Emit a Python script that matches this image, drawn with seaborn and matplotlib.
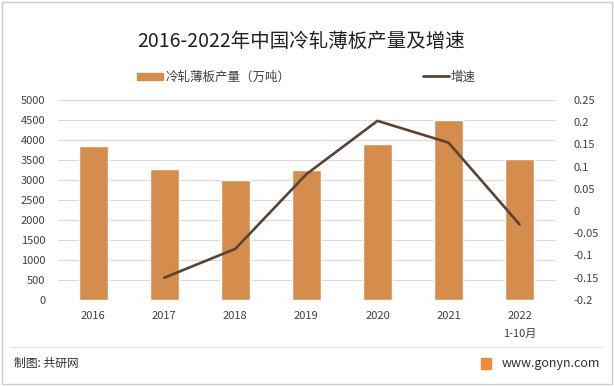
import numpy as np
import pandas as pd
import seaborn as sns
import matplotlib.pyplot as plt
from matplotlib.patches import Rectangle, Patch
from matplotlib.lines import Line2D
from matplotlib.ticker import FuncFormatter

# --- data ---
years = ['2016', '2017', '2018', '2019', '2020', '2021', '2022\n1-10月']
output = [3850, 3270, 3000, 3250, 3900, 4500, 3525]          # 万吨
growth_years = ['2017', '2018', '2019', '2020', '2021', '2022\n1-10月']
growth = [-0.150, -0.085, 0.083, 0.203, 0.154, -0.030]

left_ticks = [0, 500, 1000, 1500, 2000, 2500, 3000, 3500, 4000, 4500, 5000]
right_ticks = [-0.2, -0.15, -0.1, -0.05, 0, 0.05, 0.1, 0.15, 0.2, 0.25]

df = pd.DataFrame({'year': years, 'output': output})
dg = pd.DataFrame({'year': growth_years, 'growth': growth})
dg['pos'] = [years.index(y) for y in growth_years]

sns.set_theme(style="white")
plt.rcParams['font.family'] = ['Noto Sans CJK SC', 'DejaVu Sans']

bar_color = "#D58D4E"
line_color = "#5B4333"
text_color = "#404040"

fig = plt.figure(figsize=(6.14, 3.86), dpi=100)
ax = fig.add_axes([0.094, 0.223, 0.810, 0.518])

sns.barplot(data=df, x='year', y='output', color=bar_color, width=0.41,
            saturation=1, ax=ax, zorder=2)
ax.set_ylim(0, 5000)
ax.set_xlim(-0.5, len(years) - 0.5)
ax.set_yticks(left_ticks)
ax.yaxis.grid(True, color='#d9d9d9', linewidth=0.8, zorder=0)
ax.set_axisbelow(True)
ax.set_xlabel('')
ax.set_ylabel('')
ax.tick_params(axis='both', length=0, labelsize=8, colors=text_color)
ax.tick_params(axis='x', pad=8)
ax.tick_params(axis='y', pad=9)
for lab in ax.get_xticklabels():
    lab.set_linespacing(2.0)

ax2 = ax.twinx()
sns.lineplot(data=dg, x='pos', y='growth', color=line_color, linewidth=1.9,
             ax=ax2, zorder=3)
ax2.set_ylim(-0.2, 0.25)
ax2.set_yticks(right_ticks)
ax2.yaxis.set_major_formatter(FuncFormatter(lambda v, p: f'{v:g}'))
ax2.set_ylabel('')
ax2.tick_params(axis='y', length=0, labelsize=8, colors=text_color, pad=13)
ax2.set_xlim(-0.5, len(years) - 0.5)

sns.despine(ax=ax, left=True, bottom=True)
sns.despine(ax=ax2, left=True, bottom=True, right=True)

# title
fig.text(0.491, 0.893, '2016-2022年中国冷轧薄板产量及增速', ha='center', va='center',
         fontsize=14, color='#202020')

# legend
fig.legend(handles=[Patch(color=bar_color, label='冷轧薄板产量（万吨）')],
           loc='center left', bbox_to_anchor=(0.205, 0.80), frameon=False,
           fontsize=9, handlelength=2.1, handleheight=0.5, handletextpad=0.15,
           labelcolor=text_color)
fig.legend(handles=[Line2D([], [], color=line_color, linewidth=2.0, label='增速')],
           loc='center left', bbox_to_anchor=(0.67, 0.80), frameon=False,
           fontsize=9, handlelength=2.1, handletextpad=0.15,
           labelcolor=text_color)

# footer
fig.add_artist(Line2D([0.02, 0.98], [0.101, 0.101], color='#e0e0e0', linewidth=0.8,
                      transform=fig.transFigure))
fig.text(0.022, 0.058, '制图: 共研网', ha='left', va='center', fontsize=8.5, color='#303030')
fig.text(0.978, 0.058, 'www.gonyn.com', ha='right', va='center', fontsize=9, color='#303030')
fig.add_artist(Rectangle((0.784, 0.044), 0.016, 0.028, color='#F08A3C',
                         transform=fig.transFigure))
fig.add_artist(Rectangle((0.003, 0.005), 0.994, 0.99, fill=False, edgecolor='#cccccc',
                         linewidth=1.0, transform=fig.transFigure))

fig.savefig('out.png', dpi=100)
